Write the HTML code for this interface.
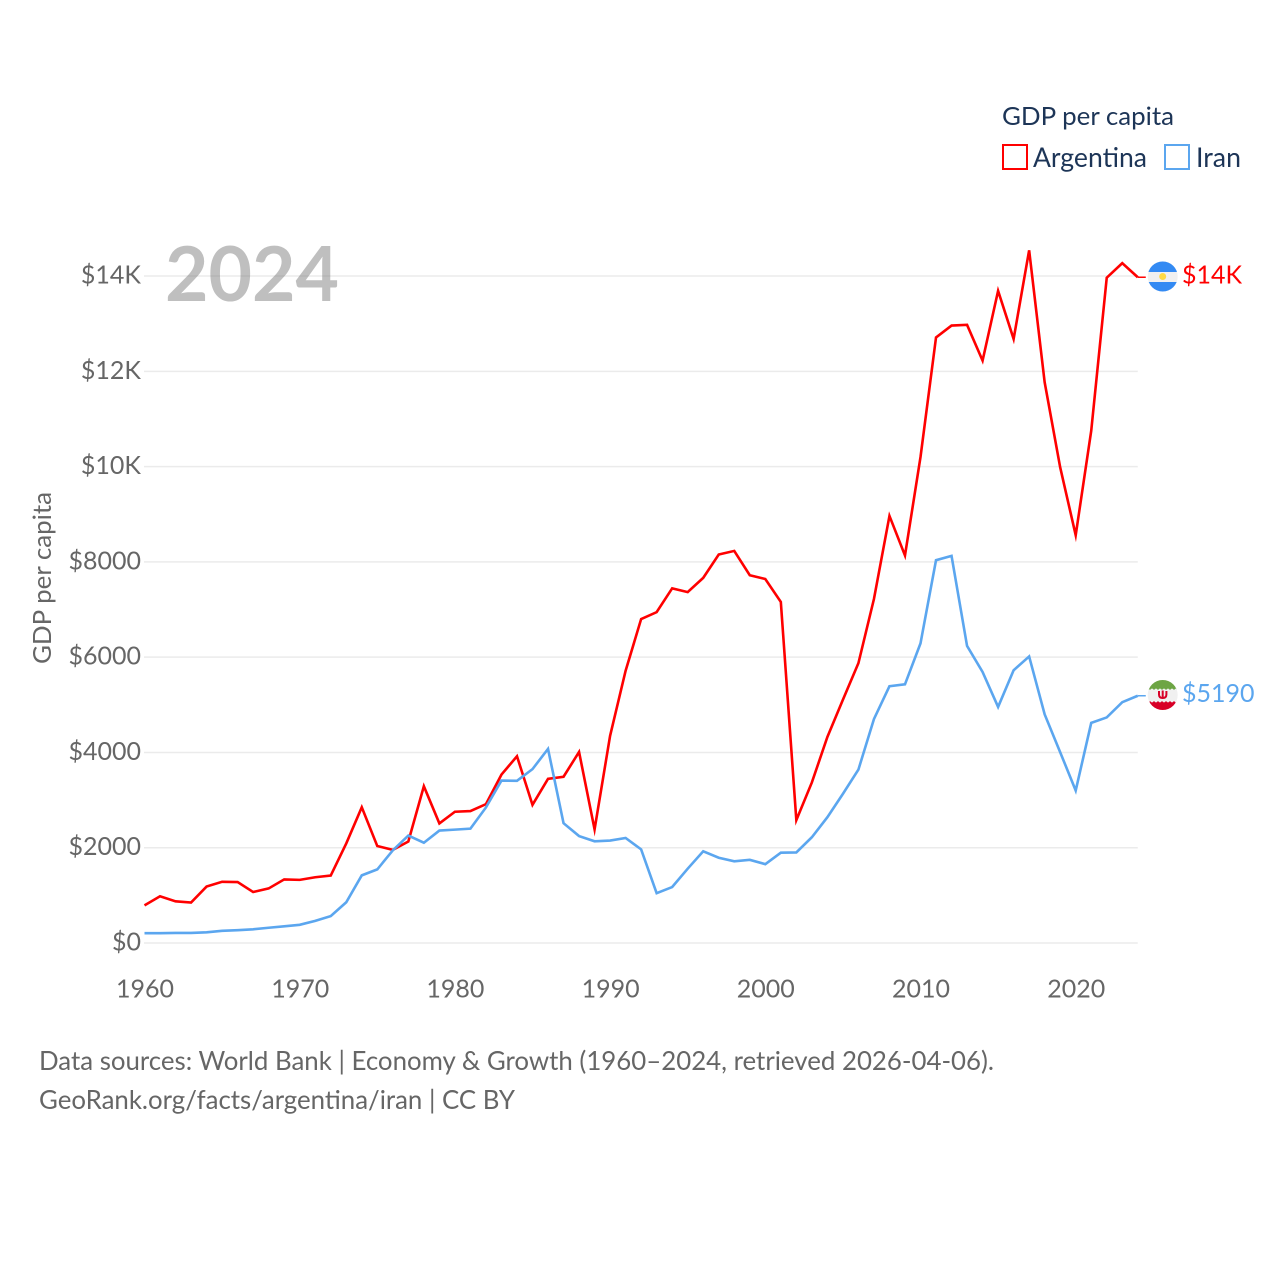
<!DOCTYPE html>
<html lang="en">
<head>
<meta charset="utf-8">
<title>GDP per capita: Argentina and Iran</title>
<style>
html,body{margin:0;padding:0;background:#fff;}
svg{display:block;}
text{font-family:"Lato","Carlito","Liberation Sans",sans-serif;}
</style>
</head>
<body>
<svg id="chart" xmlns="http://www.w3.org/2000/svg" width="1280" height="1280" viewBox="0 0 1280 1280">
  <rect x="0" y="0" width="1280" height="1280" fill="#ffffff"/>
  <defs>
    <clipPath id="flag-clip-ar"><circle cx="1162.7" cy="276.5" r="15"/></clipPath>
    <clipPath id="flag-clip-ir"><circle cx="1162.7" cy="695" r="15"/></clipPath>
  </defs>
  <g id="grid"></g>
  <g id="yticks"></g>
  <g id="xticks"></g>
  <text x="165" y="301" font-size="76" font-weight="700" fill="#777777" fill-opacity="0.47" textLength="174" lengthAdjust="spacingAndGlyphs">2024</text>
  <g id="series"></g>
  <g id="end-labels"></g>

  <text transform="translate(51,664) rotate(-90)" x="0" y="0" font-size="25" fill="#666666" textLength="172" lengthAdjust="spacingAndGlyphs">GDP per capita</text>

  <g>
    <text x="1002" y="125" font-size="25" fill="#1d3557" textLength="172" lengthAdjust="spacingAndGlyphs">GDP per capita</text>
    <g>
      <rect x="1003" y="145" width="24" height="24" fill="#ffffff" stroke="#ff0000" stroke-width="2"/>
      <text x="1033" y="167" font-size="27" fill="#1d3557" textLength="114" lengthAdjust="spacingAndGlyphs">Argentina</text>
    </g>
    <g>
      <rect x="1165" y="145" width="24" height="24" fill="#ffffff" stroke="#5ba6ef" stroke-width="2"/>
      <text x="1196" y="167" font-size="27" fill="#1d3557" textLength="45" lengthAdjust="spacingAndGlyphs">Iran</text>
    </g>
  </g>

  <g clip-path="url(#flag-clip-ar)">
    <rect x="1147" y="261" width="32" height="32" fill="#f0f0f0"/>
    <rect x="1147" y="261" width="32" height="11" fill="#338af3"/>
    <rect x="1147" y="282" width="32" height="11" fill="#338af3"/>
    <circle cx="1162.7" cy="276.5" r="3.5" fill="#ffda44"/>
  </g>
  <g clip-path="url(#flag-clip-ir)">
    <rect x="1147" y="679" width="32" height="32" fill="#f0f0f0"/>
    <rect x="1147" y="679" width="32" height="10.500" fill="#6da544"/>
    <rect x="1147" y="701.500" width="32" height="10" fill="#d80027"/>
    <line x1="1147" x2="1179" y1="689.500" y2="689.500" stroke="#f0f0f0" stroke-width="1.500" stroke-dasharray="2 2"/>
    <line x1="1147" x2="1179" y1="701.500" y2="701.500" stroke="#f0f0f0" stroke-width="1.500" stroke-dasharray="2 2"/>
    <path d="M1159 691v3.500q0 3.500 3.700 3.500t3.700-3.500v-3.500M1162.700 690.500v7.500" fill="none" stroke="#d80027" stroke-width="2"/>
  </g>

  <text x="39" y="1070" font-size="26" fill="#666666" textLength="955" lengthAdjust="spacingAndGlyphs">Data sources: World Bank | Economy &amp; Growth (1960–2024, retrieved 2026-04-06).</text>
  <text x="39" y="1109" font-size="26" fill="#666666" textLength="476" lengthAdjust="spacingAndGlyphs">GeoRank.org/facts/argentina/iran | CC BY</text>
</svg>
<script>
const startYear = 1960;
const xTickYears = [1960, 1970, 1980, 1990, 2000, 2010, 2020];
const yTickValues = [0, 2000, 4000, 6000, 8000, 10000, 12000, 14000];
const yTickLabels = ["$0", "$2000", "$4000", "$6000", "$8000", "$10K", "$12K", "$14K"];
const argentinaValues = [790,980,875,850,1185,1285,1280,1070,1145,1335,1325,1380,1415,2090,2850,2035,1955,2130,3290,2510,2755,2770,2915,3535,3920,2900,3445,3490,4010,2385,4350,5715,6800,6945,7445,7365,7665,8155,8230,7720,7640,7160,2580,3370,4325,5105,5875,7220,8965,8135,10200,12710,12960,12975,12225,13690,12680,14540,11770,9985,8560,10750,13965,14270,13975];
const iranValues = [205,205,212,212,225,255,268,288,320,350,382,465,565,855,1420,1545,1945,2255,2105,2360,2380,2400,2845,3410,3405,3650,4075,2515,2245,2135,2150,2205,1965,1045,1175,1560,1925,1790,1715,1745,1655,1895,1900,2220,2640,3130,3640,4700,5390,5430,6290,8035,8125,6235,5690,4955,5725,6015,4800,4005,3200,4620,4735,5055,5190];
const argentinaEndLabel = "$14K";
const iranEndLabel = "$5190";

const SVG_NS = "http://www.w3.org/2000/svg";
const plotLeft = 144.5;
const pxPerYear = 15.52;
const plotBottom = 943;
const pxPerDollar = 0.04764;
function xScale(year) { return plotLeft + (year - startYear) * pxPerYear; }
function yScale(value) { return plotBottom - value * pxPerDollar; }
function make(tag, attrs, text) {
  const el = document.createElementNS(SVG_NS, tag);
  for (const k in attrs) el.setAttribute(k, attrs[k]);
  if (text !== undefined) el.textContent = text;
  return el;
}
const gridG = document.getElementById("grid");
const yG = document.getElementById("yticks");
const xG = document.getElementById("xticks");
const seriesG = document.getElementById("series");
const endG = document.getElementById("end-labels");
const lastYear = startYear + argentinaValues.length - 1;
const plotRight = xScale(lastYear);

yTickValues.forEach(function (v, i) {
  const line = make("line", { x1: 144, x2: plotRight, y1: yScale(v), y2: yScale(v), stroke: "#ebebeb", "stroke-width": 1.5 });
  
  
  gridG.appendChild(line);
  const label = make("text", { x: 141, y: yScale(v) + 7.5, "text-anchor": "end", "font-size": 25, fill: "#666666" }, yTickLabels[i]);
  
  
  yG.appendChild(label);
});
xTickYears.forEach(function (year) {
  const label = make("text", { x: xScale(year) + 0.5, y: 997.5, "text-anchor": "middle", "font-size": 25, fill: "#666666" }, String(year));
  
  
  xG.appendChild(label);
});
function drawSeries(values, color) {
  const pts = values.map(function (v, i) { return xScale(startYear + i).toFixed(2) + "," + yScale(v).toFixed(2); }).join(" ");
  const line = make("polyline", { points: pts, fill: "none", stroke: color, "stroke-width": 2.6, "stroke-linejoin": "miter", "stroke-miterlimit": 6 });
  
  
  seriesG.appendChild(line);
  const lastY = yScale(values[values.length - 1]);
  const stub = make("line", { x1: plotRight, x2: plotRight + 8, y1: lastY, y2: lastY, stroke: color, "stroke-width": 1.5 });
  
  
  seriesG.appendChild(stub);
}
drawSeries(argentinaValues, "#ff0000");
drawSeries(iranValues, "#5ba6ef");
function drawEndLabel(text, value, color) {
  const label = make("text", { x: 1182, y: yScale(value) + 6.2, "font-size": 25, fill: color }, text);
  
  
  endG.appendChild(label);
}
drawEndLabel(argentinaEndLabel, argentinaValues[argentinaValues.length - 1], "#ff0000");
drawEndLabel(iranEndLabel, iranValues[iranValues.length - 1], "#5ba6ef");
</script>
</body>
</html>
